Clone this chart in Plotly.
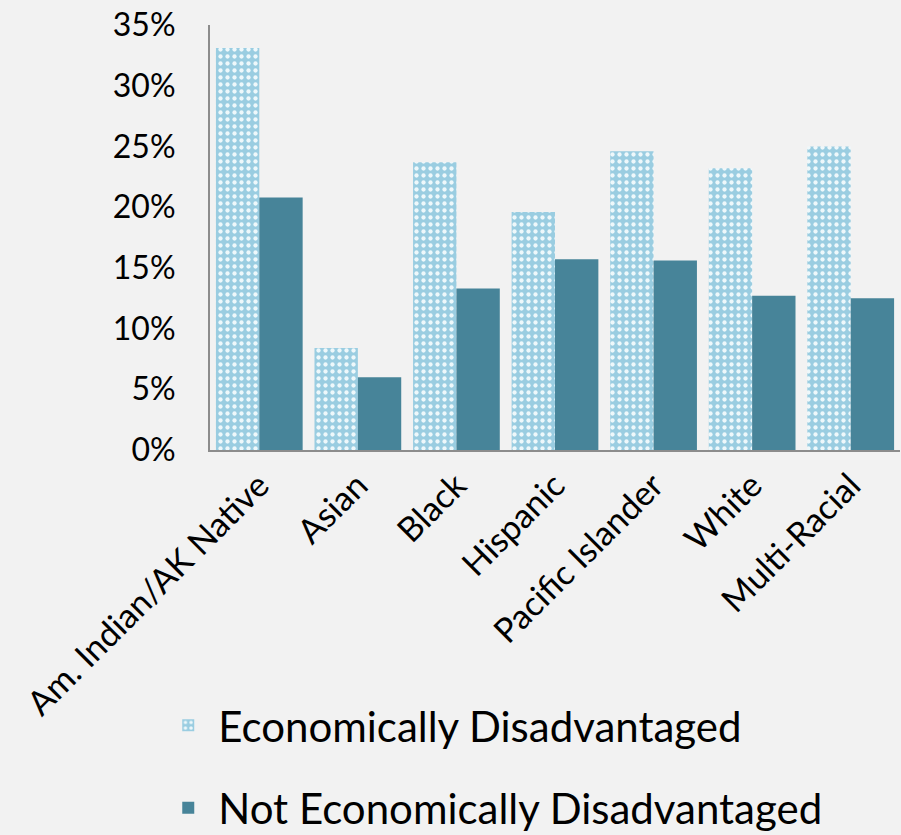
import plotly.graph_objects as go

categories = ["Am. Indian/AK Native", "Asian", "Black", "Hispanic",
              "Pacific Islander", "White", "Multi-Racial"]
econ_disadv = [33.1, 8.4, 23.7, 19.6, 24.6, 23.2, 25.0]
not_econ_disadv = [20.8, 6.0, 13.3, 15.7, 15.6, 12.7, 12.5]
y_ticks = [0, 5, 10, 15, 20, 25, 30, 35]
y_tick_labels = [f"{v}%" for v in y_ticks]

FONT = "Lato"

fig = go.Figure()
fig.add_trace(go.Bar(
    x=categories, y=econ_disadv, name="Economically Disadvantaged",
    legendgroup="a",
    marker=dict(color="#9acde1", line=dict(width=0),
                pattern=dict(shape=".", fgcolor="#eef8fb", bgcolor="#9acde1",
                             size=7, solidity=0.3, fillmode="replace")),
))
fig.add_trace(go.Bar(
    x=categories, y=not_econ_disadv, name="Not Economically Disadvantaged",
    legendgroup="b",
    marker=dict(color="#478499", line=dict(width=0)),
))

fig.update_layout(
    width=901, height=835,
    paper_bgcolor="#f2f2f2", plot_bgcolor="#f2f2f2",
    margin=dict(l=210, r=1, t=25, b=385, autoexpand=False),
    barmode="group", bargap=0.12, bargroupgap=0,
    font=dict(family=FONT, color="#000000", size=32),
    showlegend=True,
    legend=dict(x=-0.075, y=-0.568, xanchor="left", yanchor="top",
                orientation="v", font=dict(size=42, family=FONT),
                bgcolor="rgba(0,0,0,0)", tracegroupgap=25, itemwidth=50),
    xaxis=dict(showline=True, linecolor="#8c8c8c", linewidth=2,
               tickangle=-45, showgrid=False, ticks="", automargin=False,
               tickfont=dict(size=34, family=FONT)),
    yaxis=dict(range=[0, 35], tickvals=y_ticks, ticktext=y_tick_labels,
               showline=True, linecolor="#8c8c8c", linewidth=2,
               showgrid=False, ticks="", zeroline=False, automargin=False,
               tickfont=dict(size=32, family=FONT), ticklabelstandoff=26),
)

fig.write_html("out.html")
